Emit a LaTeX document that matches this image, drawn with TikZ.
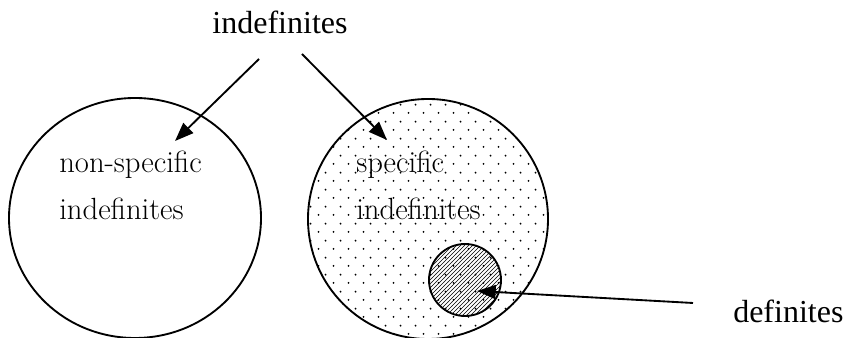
\documentclass[tikz,border=0pt]{standalone}
\usepackage{fontspec}
\usepackage{tikz}
\usetikzlibrary{shapes.geometric, arrows.meta, patterns, positioning}
\newfontfamily\timesfont{Liberation Serif}
\pgfdeclarepatternformonly{sparsedots}{\pgfqpoint{0pt}{0pt}}{\pgfqpoint{11.25pt}{12.5pt}}{\pgfqpoint{11.25pt}{12.5pt}}{%
  \pgfpathcircle{\pgfqpoint{2.8pt}{3.1pt}}{0.8pt}%
  \pgfpathcircle{\pgfqpoint{8.4pt}{9.4pt}}{0.8pt}%
  \pgfusepath{fill}}

\begin{document}
\begin{tikzpicture}[x=0.75pt, y=0.75pt,
  set/.style={draw, line width=1.4pt, inner sep=0pt},
  pointer/.style={-{Triangle[length=14pt,width=10.5pt]}, line width=1.4pt},
  settext/.style={font=\fontsize{23}{35}\selectfont, align=left,
                  anchor=north west, inner sep=0pt},
  outer/.style={font={\timesfont\fontsize{24}{28}\selectfont}, inner sep=0pt}
]
\useasboundingbox (0,0) rectangle (846,338);

% Sets
\node[set, ellipse, minimum width=189pt, minimum height=180pt] (nonspec) at (135,120) {};
\node[set, circle, pattern=sparsedots, minimum size=180pt] (spec) at (428,119) {};
\node[set, circle, pattern=north east lines, minimum size=54pt] (def) at (465,58) {};

% Set texts
\node[settext] (nonspecText) at (59,187) {non-specific\\indefinites};
\node[settext] (specText) at (356,187) {specific\\indefinites};

% Outer labels
\node[outer, anchor=base] (indef) at (280,304) {indefinites};
\node[outer, anchor=base west] (defLabel) at (733,15) {definites};

% Arrow ends
\coordinate (indefL) at (259,279);
\coordinate (indefR) at (302,284);
\coordinate (nonspecTip) at (175,197);
\coordinate (specTip) at (387,198);
\coordinate (defStart) at (693,35);
\coordinate (defTip) at (477,47);

% Pointers
\draw[pointer] (indefL) -- (nonspecTip);
\draw[pointer] (indefR) -- (specTip);
\draw[pointer] (defStart) -- (defTip);

\end{tikzpicture}
\end{document}
